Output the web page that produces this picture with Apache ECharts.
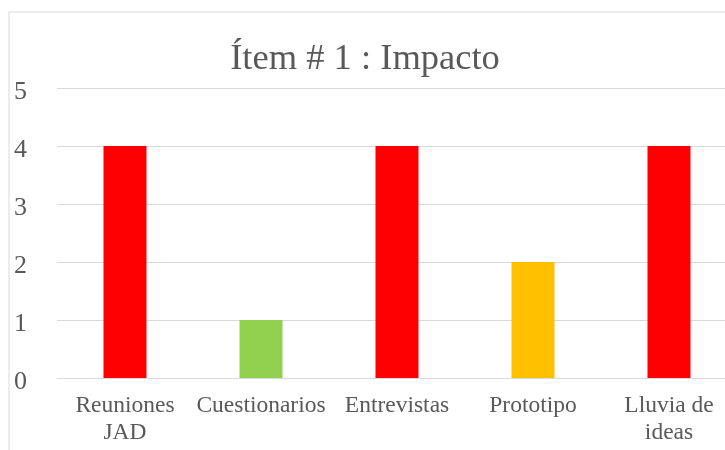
<!DOCTYPE html>
<html>
<head>
<meta charset="utf-8">
<script src="https://cdn.jsdelivr.net/npm/echarts@6/dist/echarts.min.js"></script>
<style>
html,body{margin:0;padding:0;width:725px;height:450px;overflow:hidden;background:#fff;}
#chart{position:absolute;left:0;top:0;width:760px;height:450px;}
</style>
</head>
<body>
<div id="chart"></div>
<script>
const titleText = 'Ítem # 1 : Impacto';
const categories = ['Reuniones\nJAD', 'Cuestionarios', 'Entrevistas', 'Prototipo', 'Lluvia de\nideas'];
const values = [4, 1, 4, 2, 4];
const barColors = ['#FF0000', '#92D050', '#FF0000', '#FFC000', '#FF0000'];
const yTicks = [0, 1, 2, 3, 4, 5];

const font = '"Liberation Serif", "Times New Roman", serif';
const chart = echarts.init(document.getElementById('chart'), null, {renderer: 'canvas'});
chart.setOption({
  animation: false,
  backgroundColor: '#fff',
  title: {
    text: titleText,
    left: 360,
    textAlign: 'center',
    top: 36,
    textStyle: {fontFamily: font, fontSize: 36.5, fontWeight: 'normal', color: '#595959'}
  },
  graphic: [{
    type: 'rect',
    shape: {x: 9, y: 12, width: 800, height: 500},
    style: {fill: 'none', stroke: '#d9d9d9', lineWidth: 1},
    silent: true
  }],
  grid: {left: 57, top: 88, width: 680, height: 290},
  xAxis: {
    type: 'category',
    data: categories,
    axisLine: {show: true, lineStyle: {color: '#d9d9d9', width: 1}},
    axisTick: {show: false},
    axisLabel: {fontFamily: font, fontSize: 23.5, color: '#595959', margin: 14, lineHeight: 27, interval: 0}
  },
  yAxis: {
    type: 'value',
    min: yTicks[0],
    max: yTicks[yTicks.length - 1],
    interval: 1,
    axisLine: {show: false},
    axisTick: {show: false},
    splitLine: {lineStyle: {color: '#d9d9d9', width: 1}},
    axisLabel: {
      margin: 30, align: 'right',
      formatter: '{a|{value}}',
      rich: {a: {fontFamily: font, fontSize: 26, color: '#595959', padding: [8, 0, 0, 0]}}
    }
  },
  series: [{
    type: 'bar',
    data: values.map((v, i) => ({value: v, itemStyle: {color: barColors[i]}})),
    barWidth: 43
  }]
});
</script>
</body>
</html>
